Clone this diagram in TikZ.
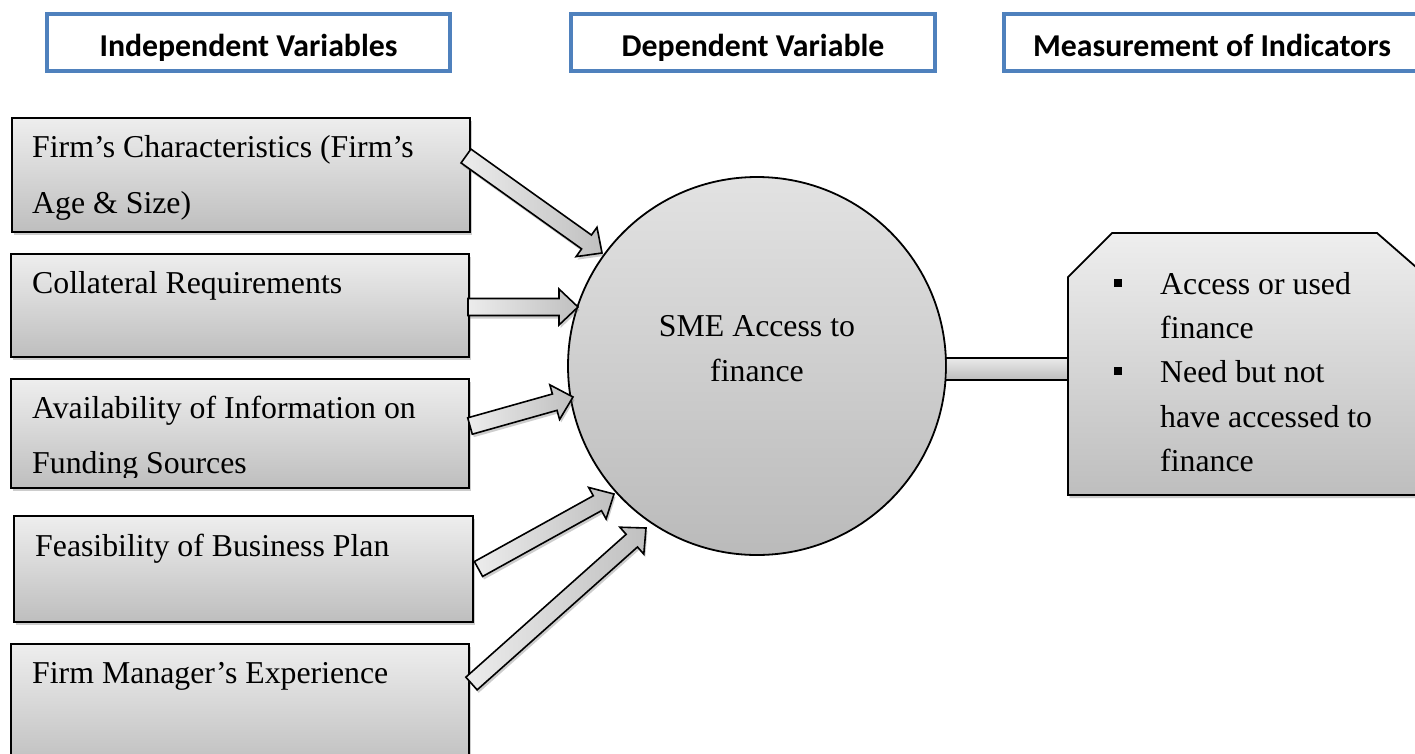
\documentclass[tikz,border=0pt]{standalone}
\usepackage{fontspec}
\setmainfont{Liberation Serif}
\newfontfamily\headfont{Carlito}
\usetikzlibrary{calc,shadows}

\definecolor{hdblue}{RGB}{79,129,189}
\definecolor{boxtop}{RGB}{238,238,238}
\definecolor{boxbot}{RGB}{190,190,190}
\definecolor{arrlight}{RGB}{236,236,236}
\definecolor{arrdark}{RGB}{192,192,192}

\tikzset{
  bodyfont/.style={font=\fontsize{31.8}{38}\selectfont},
  hdbox/.style={draw=hdblue, line width=4pt, fill=white, inner sep=0pt,
    minimum height=57pt, text height=27pt, text depth=0pt,
    font=\headfont\bfseries\fontsize{31.8}{38}\selectfont},
  softshadow/.style={drop shadow={shadow xshift=1.5pt, shadow yshift=-3pt,
    opacity=0.28, fill=black!70}},
  panel/.style={draw=black, line width=1.8pt, top color=boxtop,
    bottom color=boxbot, softshadow},
  varbox/.style={panel, inner sep=0pt, minimum width=458pt},
  txt/.style={bodyfont, anchor=base west, inner sep=0pt},
  ctxt/.style={bodyfont, anchor=base, inner sep=0pt},
  arrowbody/.style={draw=black, line width=1.6pt, line join=miter,
    left color=arrlight, right color=arrdark, softshadow},
  bulletsq/.style={fill=black, inner sep=0pt, minimum size=8pt},
}

% block arrow from a tail coordinate to a tip coordinate
\newcommand{\blockarrow}[2]{%
  \coordinate (#1h) at ($(#2)!19pt!(#1)$);
  \draw[arrowbody] ($(#1)!8.5pt!90:(#2)$) -- ($(#1h)!8.5pt!90:(#2)$)
    -- ($(#1h)!18pt!90:(#2)$) -- (#2) -- ($(#1h)!18pt!-90:(#2)$)
    -- ($(#1h)!8.5pt!-90:(#2)$) -- ($(#1)!8.5pt!-90:(#2)$) -- cycle;}

\begin{document}
\begin{tikzpicture}[x=1pt,y=-1pt]
\useasboundingbox (0,0) rectangle (1415,753);
\fill[white] (0,0) rectangle (1415,753);

% column headings
\node[hdbox, minimum width=403pt] (hind) at (248.5,42.5) {Independent Variables};
\node[hdbox, minimum width=364pt] (hdep) at (753,42.5) {Dependent Variable};
\node[hdbox, minimum width=416pt] (hmes) at (1212,42.5) {Measurement of Indicators};

% independent variable boxes
\node[varbox, minimum height=114pt] (b1) at (241,175) {};
\node[varbox, minimum height=103pt] (b2) at (240,305.5) {};
\node[varbox, minimum height=109pt] (b3) at (240,433.5) {};
\node[varbox, minimum width=459pt, minimum height=106pt] (b4) at (243.5,569) {};
\node[varbox, minimum height=126pt] (b5) at (240,707) {};

\node[txt] (b1l1) at (32,157) {Firm’s Characteristics (Firm’s};
\node[txt] (b1l2) at (32,213) {Age \& Size)};
\node[txt] (b2l1) at (32,293) {Collateral Requirements};
\node[txt] (b3l1) at (32,418) {Availability of Information on};
\begin{scope}
  \clip (0,380) rectangle (470,477);
  \node[txt] (b3l2) at (32,473) {Funding Sources};
\end{scope}
\node[txt] (b4l1) at (35,556) {Feasibility of Business Plan};
\node[txt] (b5l1) at (32,683) {Firm Manager’s Experience};

% dependent variable
\node[circle, draw=black, line width=1.8pt, top color=boxtop!95!black,
  bottom color=boxbot!98!black, minimum size=378pt, inner sep=0pt] (sme) at (757,366) {};
\node[ctxt] (smel1) at (757,336) {SME Access to};
\node[ctxt] (smel2) at (757,381) {finance};

% indicators panel with cut top corners
\path[panel] (1068,495) -- (1068,277) -- (1112,233) -- (1377,233)
  -- (1424,274) -- (1424,495) -- cycle;
\coordinate (ind) at (1068,366);

\path[top color=white!92!black, bottom color=white!74!black]
  ($(sme.east)+(0,-8)$) rectangle ($(ind)+(0,14)$);
\draw[line width=1.8pt] ($(sme.east)+(-1,-8)$) -- ($(ind)+(0,-8)$);
\draw[line width=1.8pt] ($(sme.east)+(-1,14)$) -- ($(ind)+(0,14)$);
\draw[line width=1.8pt] ($(ind)+(0,-9)$) -- ($(ind)+(0,15)$);

\node[bulletsq] (bu1) at (1118,283) {};
\node[bulletsq] (bu2) at (1118,371) {};
\node[txt] (il1) at (1160,294) {Access or used};
\node[txt] (il2) at (1160,338) {finance};
\node[txt] (il3) at (1160,382) {Need but not};
\node[txt] (il4) at (1160,427) {have accessed to};
\node[txt] (il5) at (1160,471) {finance};

% arrows from each variable to the circle
\coordinate (t1) at (466,156);   \coordinate (p1) at (602,253);
\coordinate (t2) at (468,307);   \coordinate (p2) at (578,307);
\coordinate (t3) at (470,426);   \coordinate (p3) at (573,397);
\coordinate (t4) at (478.5,569); \coordinate (p4) at (614,494);
\coordinate (t5) at (471.5,683.5); \coordinate (p5) at (646,528);
\blockarrow{t1}{p1}
\blockarrow{t2}{p2}
\blockarrow{t3}{p3}
\blockarrow{t4}{p4}
\blockarrow{t5}{p5}
\end{tikzpicture}
\end{document}
